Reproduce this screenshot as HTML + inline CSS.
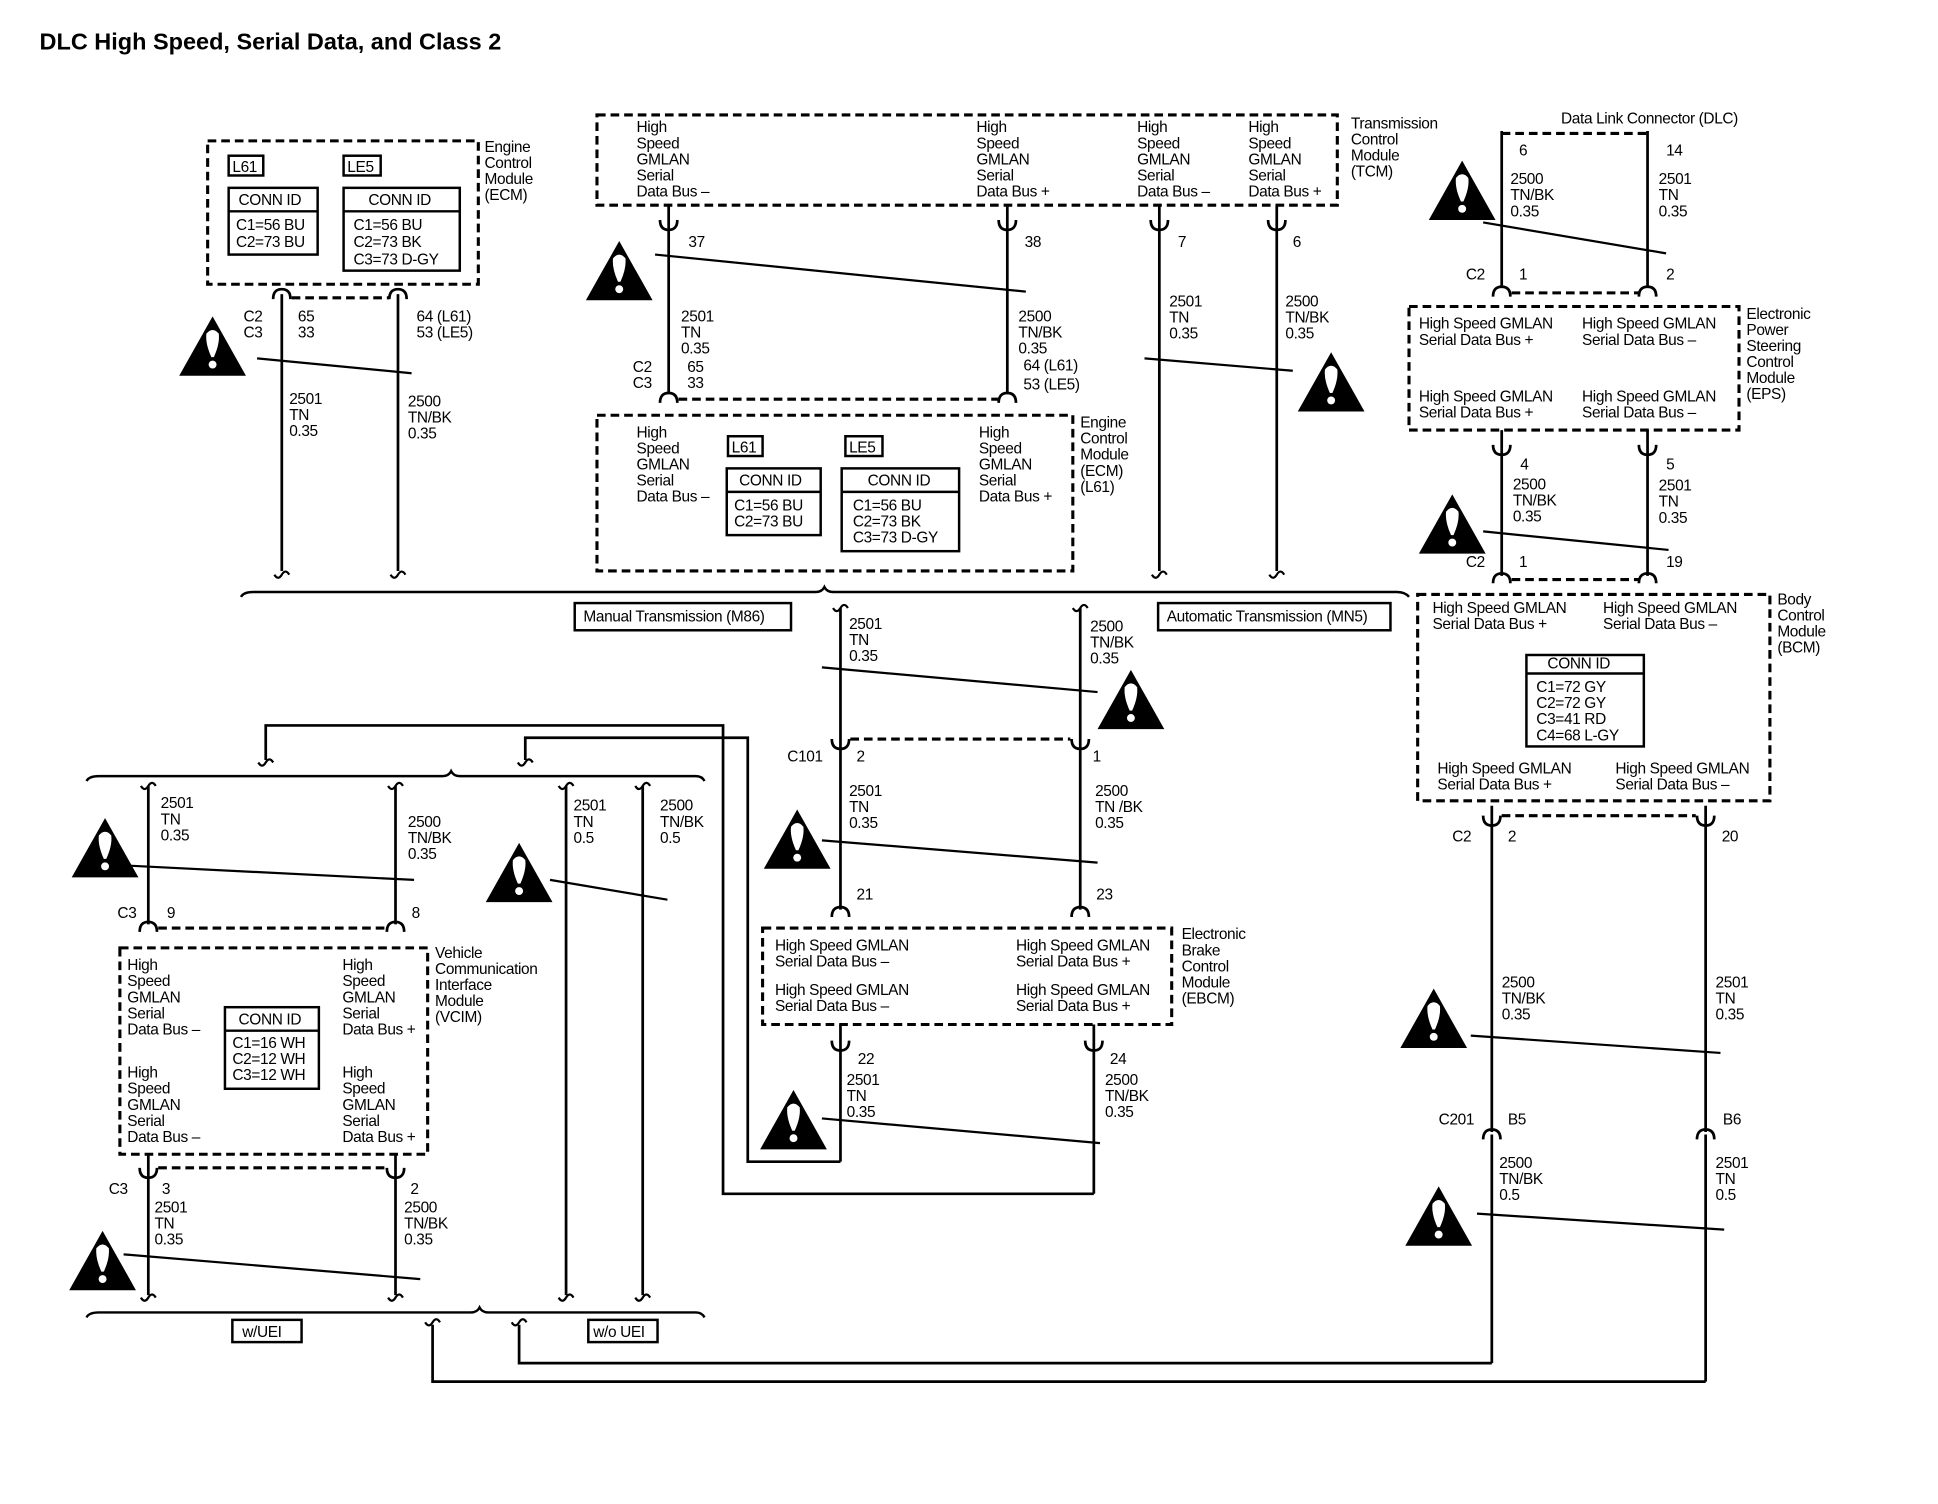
<!DOCTYPE html>
<html><head><meta charset="utf-8"><style>
html,body{margin:0;padding:0;background:#fff;}
svg{display:block;}
text{font-family:"Liberation Sans",sans-serif;font-size:12.5px;fill:#000;letter-spacing:-0.3px;}
.b{fill:none;stroke:#000;stroke-width:2;}
.d{fill:none;stroke:#000;stroke-width:2.5;stroke-dasharray:7 4;}
.w{fill:none;stroke:#000;stroke-width:2.2;}
.t{fill:none;stroke:#000;stroke-width:1.8;}
.box{fill:#fff;stroke:#000;stroke-width:2;}
</style></head><body>
<svg width="1938" height="1504" viewBox="0 0 1568 1217" preserveAspectRatio="none" xmlns="http://www.w3.org/2000/svg">
<defs>
<g id="wn"><path d="M27,0 L54,48 L0,48 Z" fill="#000"/><path d="M22,14 Q27,8 32,14 Q33,22 28,33 L26,33 Q21,22 22,14 Z" fill="#fff"/><circle cx="27" cy="39" r="3.2" fill="#fff"/></g>
<path id="cn" d="M-7,8 Q-7,0 0,0 Q7,0 7,8" fill="none" stroke="#000" stroke-width="2.2"/>
<path id="sq" d="M-6,0 Q-3,5 0,0 Q3,-5 6,0" fill="none" stroke="#000" stroke-width="1.8"/>
</defs>
<text x="32" y="40" style="font-size:19px;font-weight:bold;letter-spacing:0">DLC High Speed, Serial Data, and Class 2</text>

<!-- ECM top-left -->
<rect x="168" y="114" width="219" height="116" class="d"/>
<rect x="185" y="126" width="28" height="16" class="box"/><text x="188" y="139">L61</text>
<rect x="278" y="126" width="30" height="16" class="box"/><text x="281" y="139">LE5</text>
<rect x="185" y="152" width="72" height="54" class="box"/><line x1="185" y1="171" x2="257" y2="171" class="b"/>
<text x="193" y="166">CONN ID</text><text x="191" y="186">C1=56 BU</text><text x="191" y="200">C2=73 BU</text>
<rect x="278" y="152" width="94" height="67" class="box"/><line x1="278" y1="171" x2="372" y2="171" class="b"/>
<text x="298" y="166">CONN ID</text><text x="286" y="186">C1=56 BU</text><text x="286" y="200">C2=73 BK</text><text x="286" y="214">C3=73 D-GY</text>
<text x="392" y="123">Engine</text><text x="392" y="136">Control</text><text x="392" y="149">Module</text><text x="392" y="162">(ECM)</text>
<use href="#cn" x="228" y="234"/><use href="#cn" x="322" y="234"/>
<line x1="228" y1="238" x2="228" y2="462" class="w"/><line x1="322" y1="238" x2="322" y2="462" class="w"/>
<line x1="236" y1="241" x2="315" y2="241" class="d"/>
<use href="#sq" x="228" y="465"/><use href="#sq" x="322" y="465"/>
<text x="197" y="260">C2</text><text x="197" y="273">C3</text><text x="241" y="260">65</text><text x="241" y="273">33</text>
<text x="337" y="260">64 (L61)</text><text x="337" y="273">53 (LE5)</text>
<line x1="208" y1="290" x2="333" y2="302" class="t"/>
<use href="#wn" x="145" y="256"/>
<text x="234" y="327">2501</text><text x="234" y="340">TN</text><text x="234" y="353">0.35</text>
<text x="330" y="329">2500</text><text x="330" y="342">TN/BK</text><text x="330" y="355">0.35</text>

<!-- TCM -->
<rect x="483" y="93" width="599" height="73" class="d"/>
<text x="515" y="107">High</text><text x="515" y="120">Speed</text><text x="515" y="133">GMLAN</text><text x="515" y="146">Serial</text><text x="515" y="159">Data Bus –</text>
<text x="790" y="107">High</text><text x="790" y="120">Speed</text><text x="790" y="133">GMLAN</text><text x="790" y="146">Serial</text><text x="790" y="159">Data Bus +</text>
<text x="920" y="107">High</text><text x="920" y="120">Speed</text><text x="920" y="133">GMLAN</text><text x="920" y="146">Serial</text><text x="920" y="159">Data Bus –</text>
<text x="1010" y="107">High</text><text x="1010" y="120">Speed</text><text x="1010" y="133">GMLAN</text><text x="1010" y="146">Serial</text><text x="1010" y="159">Data Bus +</text>
<text x="1093" y="104">Transmission</text><text x="1093" y="117">Control</text><text x="1093" y="130">Module</text><text x="1093" y="143">(TCM)</text>
<use href="#cn" x="541" y="178" transform="rotate(180 541 182)"/><use href="#cn" x="815" y="178" transform="rotate(180 815 182)"/>
<use href="#cn" x="938" y="178" transform="rotate(180 938 182)"/><use href="#cn" x="1033" y="178" transform="rotate(180 1033 182)"/>
<line x1="541" y1="166" x2="541" y2="318" class="w"/><line x1="815" y1="166" x2="815" y2="318" class="w"/>
<line x1="938" y1="166" x2="938" y2="462" class="w"/><line x1="1033" y1="166" x2="1033" y2="462" class="w"/>
<use href="#sq" x="938" y="465"/><use href="#sq" x="1033" y="465"/>
<text x="557" y="200">37</text><text x="829" y="200">38</text><text x="953" y="200">7</text><text x="1046" y="200">6</text>
<line x1="530" y1="206" x2="830" y2="236" class="t"/>
<use href="#wn" x="474" y="195"/>
<text x="551" y="260">2501</text><text x="551" y="273">TN</text><text x="551" y="286">0.35</text>
<text x="824" y="260">2500</text><text x="824" y="273">TN/BK</text><text x="824" y="286">0.35</text>
<text x="512" y="301">C2</text><text x="512" y="314">C3</text><text x="556" y="301">65</text><text x="556" y="314">33</text>
<text x="828" y="300">64 (L61)</text><text x="828" y="315">53 (LE5)</text>
<use href="#cn" x="541" y="318"/><use href="#cn" x="815" y="318"/>
<line x1="549" y1="323" x2="808" y2="323" class="d"/>
<text x="946" y="248">2501</text><text x="946" y="261">TN</text><text x="946" y="274">0.35</text>
<text x="1040" y="248">2500</text><text x="1040" y="261">TN/BK</text><text x="1040" y="274">0.35</text>
<line x1="926" y1="290" x2="1046" y2="300" class="t"/>
<use href="#wn" x="1050" y="285"/>

<!-- ECM lower -->
<rect x="483" y="336" width="385" height="126" class="d"/>
<text x="515" y="354">High</text><text x="515" y="367">Speed</text><text x="515" y="380">GMLAN</text><text x="515" y="393">Serial</text><text x="515" y="406">Data Bus –</text>
<text x="792" y="354">High</text><text x="792" y="367">Speed</text><text x="792" y="380">GMLAN</text><text x="792" y="393">Serial</text><text x="792" y="406">Data Bus +</text>
<rect x="589" y="353" width="28" height="16" class="box"/><text x="592" y="366">L61</text>
<rect x="684" y="353" width="30" height="16" class="box"/><text x="687" y="366">LE5</text>
<rect x="588" y="379" width="76" height="54" class="box"/><line x1="588" y1="398" x2="664" y2="398" class="b"/>
<text x="598" y="393">CONN ID</text><text x="594" y="413">C1=56 BU</text><text x="594" y="426">C2=73 BU</text>
<rect x="681" y="379" width="95" height="67" class="box"/><line x1="681" y1="398" x2="776" y2="398" class="b"/>
<text x="702" y="393">CONN ID</text><text x="690" y="413">C1=56 BU</text><text x="690" y="426">C2=73 BK</text><text x="690" y="439">C3=73 D-GY</text>
<text x="874" y="346">Engine</text><text x="874" y="359">Control</text><text x="874" y="372">Module</text><text x="874" y="385">(ECM)</text><text x="874" y="398">(L61)</text>

<!-- Bus line -->
<path d="M195,483 Q197,479 205,479 L660,479 Q665,479 667,475 Q669,479 674,479 L1130,479 Q1137,479 1140,483" class="b"/>
<rect x="465" y="488" width="175" height="22" class="box"/><text x="472" y="503">Manual Transmission (M86)</text>
<rect x="937" y="488" width="188" height="22" class="box"/><text x="944" y="503">Automatic Transmission (MN5)</text>

<!-- DLC -->
<line x1="1215" y1="108" x2="1333" y2="108" class="d"/>
<line x1="1215" y1="106" x2="1215" y2="232" class="w"/><line x1="1333" y1="106" x2="1333" y2="232" class="w"/>
<text x="1263" y="100">Data Link Connector (DLC)</text>
<text x="1229" y="126">6</text><text x="1348" y="126">14</text>
<text x="1222" y="149">2500</text><text x="1222" y="162">TN/BK</text><text x="1222" y="175">0.35</text>
<text x="1342" y="149">2501</text><text x="1342" y="162">TN</text><text x="1342" y="175">0.35</text>
<use href="#wn" x="1156" y="130"/>
<line x1="1200" y1="180" x2="1348" y2="205" class="t"/>
<text x="1186" y="226">C2</text><text x="1229" y="226">1</text><text x="1348" y="226">2</text>
<use href="#cn" x="1215" y="232"/><use href="#cn" x="1333" y="232"/>
<line x1="1223" y1="237" x2="1326" y2="237" class="d"/>
<rect x="1140" y="248" width="267" height="100" class="d"/>
<text x="1148" y="266">High Speed GMLAN</text><text x="1148" y="279">Serial Data Bus +</text>
<text x="1280" y="266">High Speed GMLAN</text><text x="1280" y="279">Serial Data Bus –</text>
<text x="1148" y="325">High Speed GMLAN</text><text x="1148" y="338">Serial Data Bus +</text>
<text x="1280" y="325">High Speed GMLAN</text><text x="1280" y="338">Serial Data Bus –</text>
<text x="1413" y="258">Electronic</text><text x="1413" y="271">Power</text><text x="1413" y="284">Steering</text><text x="1413" y="297">Control</text><text x="1413" y="310">Module</text><text x="1413" y="323">(EPS)</text>
<use href="#cn" x="1215" y="360" transform="rotate(180 1215 364)"/><use href="#cn" x="1333" y="360" transform="rotate(180 1333 364)"/>
<line x1="1215" y1="348" x2="1215" y2="466" class="w"/><line x1="1333" y1="348" x2="1333" y2="466" class="w"/>
<text x="1230" y="380">4</text><text x="1348" y="380">5</text>
<text x="1224" y="396">2500</text><text x="1224" y="409">TN/BK</text><text x="1224" y="422">0.35</text>
<text x="1342" y="397">2501</text><text x="1342" y="410">TN</text><text x="1342" y="423">0.35</text>
<use href="#wn" x="1148" y="400"/>
<line x1="1200" y1="430" x2="1350" y2="445" class="t"/>
<text x="1186" y="459">C2</text><text x="1229" y="459">1</text><text x="1348" y="459">19</text>
<use href="#cn" x="1215" y="464"/><use href="#cn" x="1333" y="464"/>
<line x1="1223" y1="469" x2="1326" y2="469" class="d"/>

<!-- BCM -->
<rect x="1147" y="481" width="285" height="167" class="d"/>
<text x="1159" y="496">High Speed GMLAN</text><text x="1159" y="509">Serial Data Bus +</text>
<text x="1297" y="496">High Speed GMLAN</text><text x="1297" y="509">Serial Data Bus –</text>
<rect x="1235" y="530" width="95" height="74" class="box"/><line x1="1235" y1="545" x2="1330" y2="545" class="b"/>
<text x="1252" y="541">CONN ID</text><text x="1243" y="560">C1=72 GY</text><text x="1243" y="573">C2=72 GY</text><text x="1243" y="586">C3=41 RD</text><text x="1243" y="599">C4=68 L-GY</text>
<text x="1163" y="626">High Speed GMLAN</text><text x="1163" y="639">Serial Data Bus +</text>
<text x="1307" y="626">High Speed GMLAN</text><text x="1307" y="639">Serial Data Bus –</text>
<text x="1438" y="489">Body</text><text x="1438" y="502">Control</text><text x="1438" y="515">Module</text><text x="1438" y="528">(BCM)</text>
<line x1="1215" y1="660" x2="1372" y2="660" class="d"/>
<use href="#cn" x="1207" y="660" transform="rotate(180 1207 664)"/><use href="#cn" x="1380" y="660" transform="rotate(180 1380 664)"/>
<line x1="1207" y1="652" x2="1207" y2="916" class="w"/><line x1="1380" y1="652" x2="1380" y2="916" class="w"/>
<text x="1175" y="681">C2</text><text x="1220" y="681">2</text><text x="1393" y="681">20</text>
<text x="1215" y="799">2500</text><text x="1215" y="812">TN/BK</text><text x="1215" y="825">0.35</text>
<text x="1388" y="799">2501</text><text x="1388" y="812">TN</text><text x="1388" y="825">0.35</text>
<use href="#wn" x="1133" y="800"/>
<line x1="1190" y1="838" x2="1392" y2="852" class="t"/>
<text x="1164" y="910">C201</text><text x="1220" y="910">B5</text><text x="1394" y="910">B6</text>
<use href="#cn" x="1207" y="914"/><use href="#cn" x="1380" y="914"/>
<line x1="1207" y1="918" x2="1207" y2="1103" class="w"/><line x1="1380" y1="918" x2="1380" y2="1118" class="w"/>
<text x="1213" y="945">2500</text><text x="1213" y="958">TN/BK</text><text x="1213" y="971">0.5</text>
<text x="1388" y="945">2501</text><text x="1388" y="958">TN</text><text x="1388" y="971">0.5</text>
<use href="#wn" x="1137" y="960"/>
<line x1="1195" y1="982" x2="1395" y2="995" class="t"/>
<path d="M1207,1103 L420,1103 L420,1072" class="w"/>
<path d="M1380,1118 L350,1118 L350,1072" class="w"/>
<use href="#sq" x="420" y="1070"/><use href="#sq" x="350" y="1070"/>

<!-- middle C101 / EBCM -->
<use href="#sq" x="680" y="492"/><use href="#sq" x="874" y="492"/>
<line x1="680" y1="492" x2="680" y2="596" class="w"/><line x1="874" y1="492" x2="874" y2="596" class="w"/>
<text x="687" y="509">2501</text><text x="687" y="522">TN</text><text x="687" y="535">0.35</text>
<text x="882" y="511">2500</text><text x="882" y="524">TN/BK</text><text x="882" y="537">0.35</text>
<line x1="665" y1="540" x2="888" y2="560" class="t"/>
<use href="#wn" x="888" y="542"/>
<line x1="688" y1="598" x2="866" y2="598" class="d"/>
<use href="#cn" x="680" y="598" transform="rotate(180 680 602)"/><use href="#cn" x="874" y="598" transform="rotate(180 874 602)"/>
<line x1="680" y1="596" x2="680" y2="736" class="w"/><line x1="874" y1="596" x2="874" y2="736" class="w"/>
<text x="637" y="616">C101</text><text x="693" y="616">2</text><text x="884" y="616">1</text>
<text x="687" y="644">2501</text><text x="687" y="657">TN</text><text x="687" y="670">0.35</text>
<text x="886" y="644">2500</text><text x="886" y="657">TN /BK</text><text x="886" y="670">0.35</text>
<use href="#wn" x="618" y="655"/>
<line x1="665" y1="680" x2="888" y2="698" class="t"/>
<text x="693" y="728">21</text><text x="887" y="728">23</text>
<use href="#cn" x="680" y="734"/><use href="#cn" x="874" y="734"/>
<rect x="617" y="751" width="331" height="78" class="d"/>
<text x="627" y="769">High Speed GMLAN</text><text x="627" y="782">Serial Data Bus –</text>
<text x="822" y="769">High Speed GMLAN</text><text x="822" y="782">Serial Data Bus +</text>
<text x="627" y="805">High Speed GMLAN</text><text x="627" y="818">Serial Data Bus –</text>
<text x="822" y="805">High Speed GMLAN</text><text x="822" y="818">Serial Data Bus +</text>
<text x="956" y="760">Electronic</text><text x="956" y="773">Brake</text><text x="956" y="786">Control</text><text x="956" y="799">Module</text><text x="956" y="812">(EBCM)</text>
<use href="#cn" x="680" y="842" transform="rotate(180 680 846)"/><use href="#cn" x="885" y="842" transform="rotate(180 885 846)"/>
<line x1="680" y1="829" x2="680" y2="940" class="w"/><line x1="885" y1="829" x2="885" y2="966" class="w"/>
<text x="694" y="861">22</text><text x="898" y="861">24</text>
<text x="685" y="878">2501</text><text x="685" y="891">TN</text><text x="685" y="904">0.35</text>
<text x="894" y="878">2500</text><text x="894" y="891">TN/BK</text><text x="894" y="904">0.35</text>
<use href="#wn" x="615" y="882"/>
<line x1="665" y1="905" x2="890" y2="925" class="t"/>
<path d="M680,940 L605,940 L605,597 L425,597 L425,615" class="w"/>
<path d="M885,966 L585,966 L585,587 L215,587 L215,615" class="w"/>
<use href="#sq" x="425" y="617"/><use href="#sq" x="215" y="617"/>

<!-- left VCIM -->
<path d="M70,632 Q72,628 80,628 L358,628 Q363,628 365,624 Q367,628 372,628 L563,628 Q568,628 570,632" class="b"/>
<use href="#sq" x="120" y="636"/><use href="#sq" x="320" y="636"/><use href="#sq" x="458" y="636"/><use href="#sq" x="520" y="636"/>
<line x1="120" y1="636" x2="120" y2="748" class="w"/><line x1="320" y1="636" x2="320" y2="748" class="w"/>
<line x1="458" y1="636" x2="458" y2="1048" class="w"/><line x1="520" y1="636" x2="520" y2="1048" class="w"/>
<use href="#sq" x="458" y="1050"/><use href="#sq" x="520" y="1050"/>
<text x="130" y="654">2501</text><text x="130" y="667">TN</text><text x="130" y="680">0.35</text>
<text x="330" y="669">2500</text><text x="330" y="682">TN/BK</text><text x="330" y="695">0.35</text>
<text x="464" y="656">2501</text><text x="464" y="669">TN</text><text x="464" y="682">0.5</text>
<text x="534" y="656">2500</text><text x="534" y="669">TN/BK</text><text x="534" y="682">0.5</text>
<use href="#wn" x="58" y="662"/><use href="#wn" x="393" y="682"/>
<line x1="95" y1="700" x2="335" y2="712" class="t"/>
<line x1="445" y1="712" x2="540" y2="728" class="t"/>
<text x="95" y="743">C3</text><text x="135" y="743">9</text><text x="333" y="743">8</text>
<use href="#cn" x="120" y="746"/><use href="#cn" x="320" y="746"/>
<line x1="128" y1="751" x2="313" y2="751" class="d"/>
<rect x="97" y="767" width="249" height="167" class="d"/>
<text x="103" y="785">High</text><text x="103" y="798">Speed</text><text x="103" y="811">GMLAN</text><text x="103" y="824">Serial</text><text x="103" y="837">Data Bus –</text>
<text x="277" y="785">High</text><text x="277" y="798">Speed</text><text x="277" y="811">GMLAN</text><text x="277" y="824">Serial</text><text x="277" y="837">Data Bus +</text>
<text x="103" y="872">High</text><text x="103" y="885">Speed</text><text x="103" y="898">GMLAN</text><text x="103" y="911">Serial</text><text x="103" y="924">Data Bus –</text>
<text x="277" y="872">High</text><text x="277" y="885">Speed</text><text x="277" y="898">GMLAN</text><text x="277" y="911">Serial</text><text x="277" y="924">Data Bus +</text>
<rect x="182" y="815" width="76" height="66" class="box"/><line x1="182" y1="834" x2="258" y2="834" class="b"/>
<text x="193" y="829">CONN ID</text><text x="188" y="848">C1=16 WH</text><text x="188" y="861">C2=12 WH</text><text x="188" y="874">C3=12 WH</text>
<text x="352" y="775">Vehicle</text><text x="352" y="788">Communication</text><text x="352" y="801">Interface</text><text x="352" y="814">Module</text><text x="352" y="827">(VCIM)</text>
<line x1="128" y1="945" x2="313" y2="945" class="d"/>
<use href="#cn" x="120" y="945" transform="rotate(180 120 949)"/><use href="#cn" x="320" y="945" transform="rotate(180 320 949)"/>
<line x1="120" y1="934" x2="120" y2="1048" class="w"/><line x1="320" y1="934" x2="320" y2="1048" class="w"/>
<use href="#sq" x="120" y="1050"/><use href="#sq" x="320" y="1050"/>
<text x="88" y="966">C3</text><text x="131" y="966">3</text><text x="332" y="966">2</text>
<text x="125" y="981">2501</text><text x="125" y="994">TN</text><text x="125" y="1007">0.35</text>
<text x="327" y="981">2500</text><text x="327" y="994">TN/BK</text><text x="327" y="1007">0.35</text>
<use href="#wn" x="56" y="996"/>
<line x1="100" y1="1015" x2="340" y2="1035" class="t"/>
<path d="M70,1066 Q72,1062 80,1062 L381,1062 Q386,1062 388,1058 Q390,1062 395,1062 L563,1062 Q568,1062 570,1066" class="b"/>
<rect x="188" y="1068" width="56" height="18" class="box"/><text x="196" y="1082">w/UEI</text>
<rect x="476" y="1068" width="56" height="18" class="box"/><text x="480" y="1082">w/o UEI</text>
</svg>
</body></html>
